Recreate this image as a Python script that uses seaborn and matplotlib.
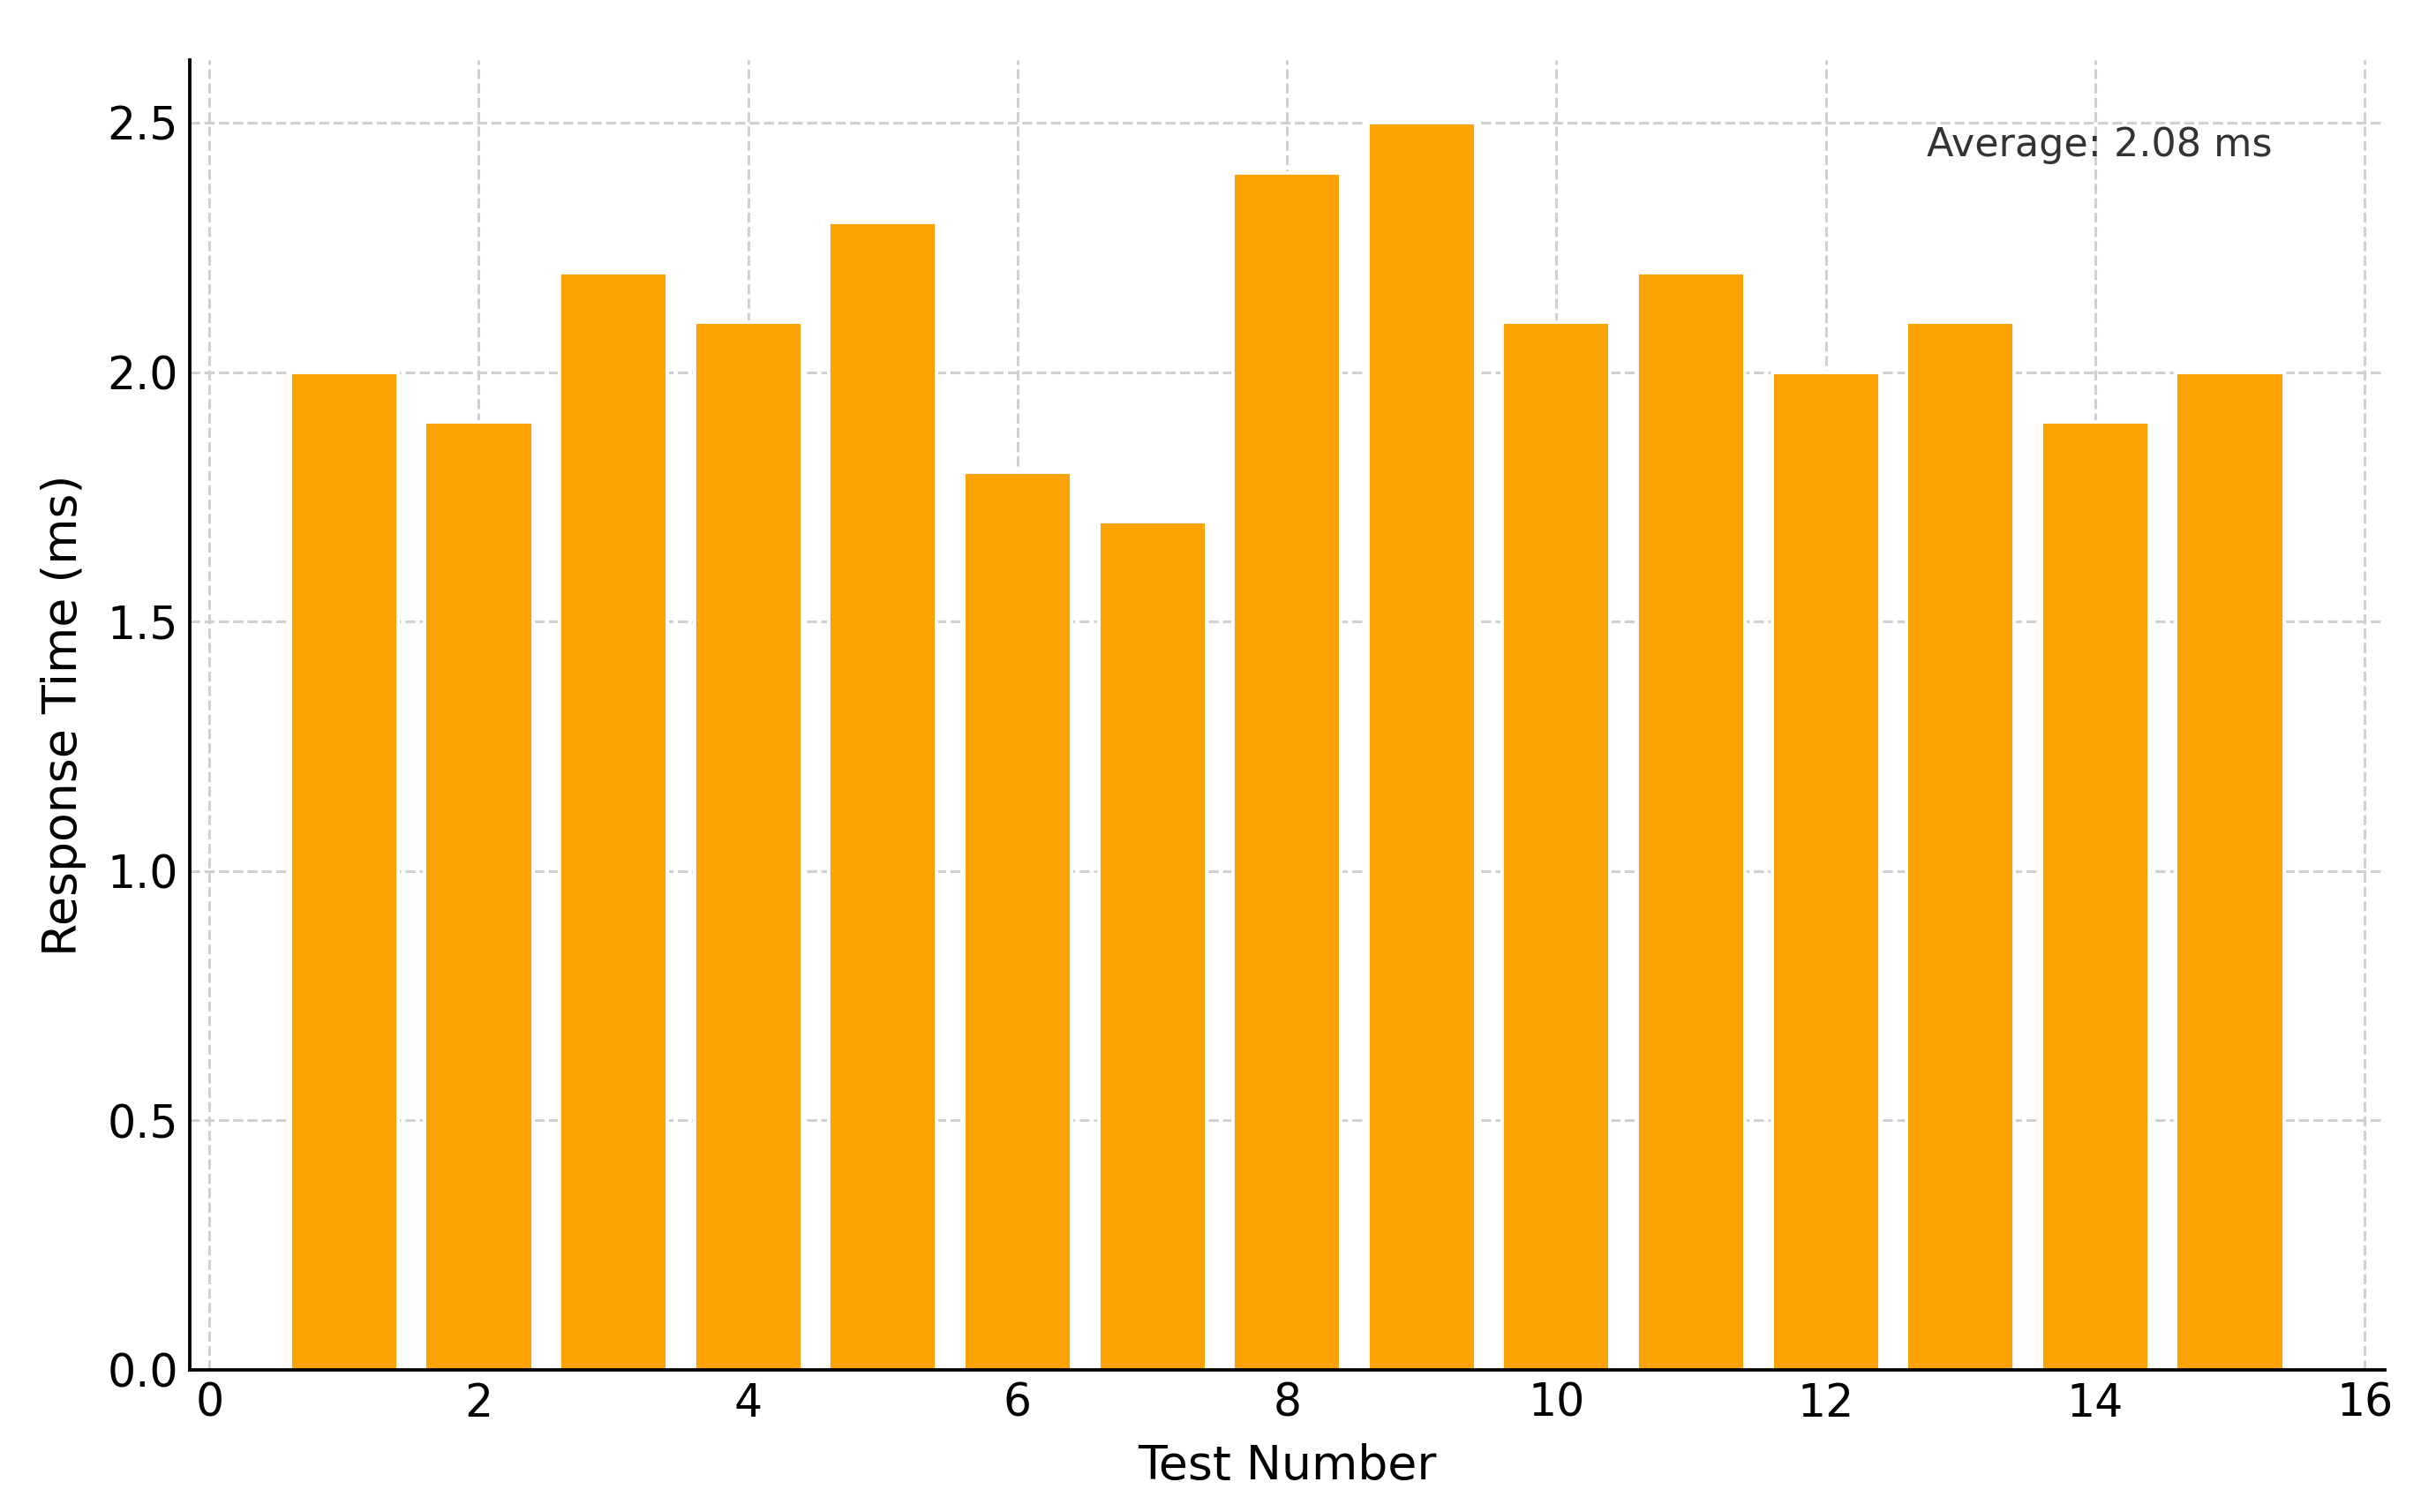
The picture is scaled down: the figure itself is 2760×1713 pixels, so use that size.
import matplotlib
matplotlib.use("Agg")
import matplotlib.pyplot as plt
import seaborn as sns
import pandas as pd
import numpy as np

# data
test_numbers = [1, 2, 3, 4, 5, 6, 7, 8, 9, 10, 11, 12, 13, 14, 15]
response_times = [2.0, 1.9, 2.2, 2.1, 2.3, 1.8, 1.7, 2.4, 2.5, 2.1, 2.2, 2.0, 2.1, 1.9, 2.0]

df = pd.DataFrame({"Test Number": test_numbers, "Response Time (ms)": response_times})
average = np.mean(response_times)

sns.set_style("white")
plt.rcParams['font.family'] = ['DejaVu Sans']

fig, ax = plt.subplots(figsize=(10, 6.207), dpi=276)
fig.subplots_adjust(left=0.078, right=0.979, bottom=0.094, top=0.96)

sns.barplot(data=df, x="Test Number", y="Response Time (ms)", native_scale=True,
            color="#FBA204", saturation=1, width=0.8, ax=ax)
ax.set_xlim(-0.144, 16.15)
ax.set_ylim(0, 2.625)
ax.set_xticks(range(0, 17, 2))
ax.set_yticks([0.0, 0.5, 1.0, 1.5, 2.0, 2.5])
ax.set_yticklabels(["0.0", "0.5", "1.0", "1.5", "2.0", "2.5"])

ax.grid(True, linestyle="--", color="#d0d0d0", linewidth=0.8)
ax.set_axisbelow(True)
sns.despine(ax=ax)
for s in ["left", "bottom"]:
    ax.spines[s].set_color("black")
    ax.spines[s].set_linewidth(1.0)
ax.tick_params(direction="in", length=3.5, width=1, labelsize=13.2, colors="black")

ax.set_xlabel("Test Number", fontsize=14, labelpad=5, color="black")
ax.set_ylabel("Response Time (ms)", fontsize=14, labelpad=6, color="black")

ax.text(0.87, 0.95, f"Average: {average:.2f} ms", transform=ax.transAxes,
        ha="center", va="top", fontsize=11.6, color="#333333")

plt.savefig("out.png", dpi=276)
